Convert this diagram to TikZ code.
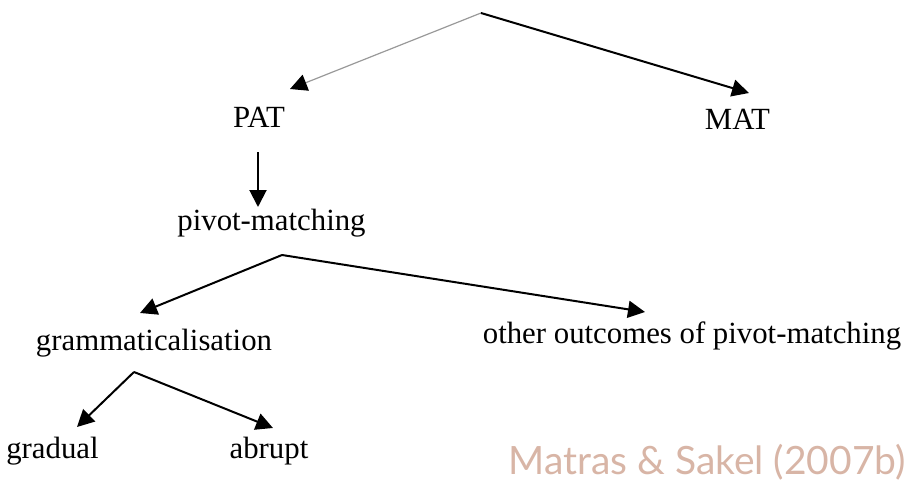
\documentclass[tikz,border=0pt]{standalone}
\usepackage{fontspec}
\setmainfont{Liberation Serif}
\newfontfamily\credfont{Lato}
\usetikzlibrary{arrows.meta}
\definecolor{credcol}{RGB}{216,181,166}

\begin{document}
\begin{tikzpicture}[x=1pt,y=-1pt,
    every node/.style={anchor=base,inner sep=0pt,font=\fontsize{30.8}{36}\selectfont},
    arr/.style={line width=2pt,-{Triangle[length=17pt,width=17pt]}},
    thinarr/.style={line width=1.2pt,draw=black!40,-{Triangle[length=17pt,width=17pt,color=black]}}
    ]
    \useasboundingbox (0,0) rectangle (906,495);

    %labels of the tree
    \node (pat) at (259,128) {PAT};
    \node (mat) at (737.5,130) {MAT};
    \node (pivot) at (271.5,230) {pivot-matching};
    \node (gram) at (154,350) {grammaticalisation};
    \node (other) at (692,343) {other outcomes of pivot-matching};
    \node (gradual) at (52.5,458) {gradual};
    \node (abrupt) at (269,458) {abrupt};

    %forks
    \coordinate (top) at (481,13);
    \coordinate (pivfork) at ([shift={(10.5pt,-25pt)}]pivot.base);
    \coordinate (gramfork) at ([shift={(-20pt,-22pt)}]gram.base);

    %arrows
    \draw[thinarr] (top) -- ([shift={(31pt,39pt)}]pat.base);
    \draw[arr] (top) -- ([shift={(11.5pt,37pt)}]mat.base);
    \draw[arr] ([shift={(-1pt,-24pt)}]pat.base) -- ([shift={(-13.5pt,23pt)}]pivot.base);
    \draw[arr] (pivfork) -- ([shift={(-14pt,37pt)}]gram.base);
    \draw[arr] (pivfork) -- ([shift={(-47pt,31pt)}]other.base);
    \draw[arr] (gramfork) -- ([shift={(24.5pt,31pt)}]gradual.base);
    \draw[arr] (gramfork) -- ([shift={(4pt,30pt)}]abrupt.base);

    %source
    \node[anchor=base east,text=credcol,font=\credfont\fontsize{39}{46}\selectfont] (cred) at (906,474) {Matras \& Sakel (2007b)};
\end{tikzpicture}
\end{document}
